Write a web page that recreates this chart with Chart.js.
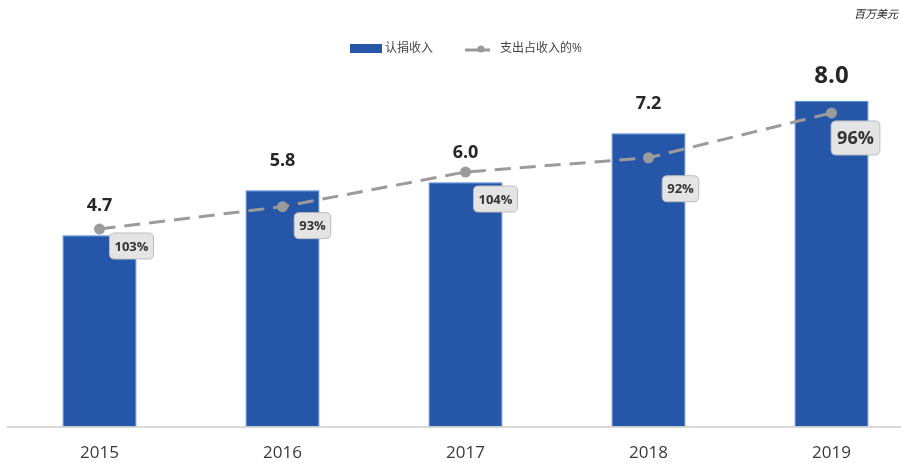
<!DOCTYPE html>
<html>
<head>
<meta charset="utf-8">
<script src="https://cdn.jsdelivr.net/npm/chart.js@4.4.1/dist/chart.umd.min.js"></script>
<style>
  html, body { margin: 0; padding: 0; background: #fff; overflow: hidden; }
  #wrap { position: relative; width: 901px; height: 463px; overflow: hidden; }
</style>
</head>
<body>
<div id="wrap"><canvas id="chart" width="931" height="479"></canvas></div>
<script>
// data (百万美元)
const years = ["2015", "2016", "2017", "2018", "2019"];
const pledges = [4.7, 5.8, 6.0, 7.2, 8.0];          // 认捐收入
const spending = [4.85, 5.4, 6.25, 6.6, 7.7];       // 支出 (plotted on the same axis)
const spendPct = [103, 93, 104, 92, 96];            // 支出占收入的%

const barLabel = "认捐收入";
const lineLabel = "支出占收入的%";
const unitLabel = "百万美元";

// where each % box sits relative to its point
const pctOffsets = [[32, 17], [30, 19], [30, 27], [32, 31], [24, 25]];

const FONT = "'Open Sans', 'Noto Sans', 'Noto Sans CJK SC', sans-serif";

const roundRect = (ctx, x, y, w, h, r) => {
  ctx.beginPath();
  ctx.moveTo(x + r, y);
  ctx.lineTo(x + w - r, y);
  ctx.quadraticCurveTo(x + w, y, x + w, y + r);
  ctx.lineTo(x + w, y + h - r);
  ctx.quadraticCurveTo(x + w, y + h, x + w - r, y + h);
  ctx.lineTo(x + r, y + h);
  ctx.quadraticCurveTo(x, y + h, x, y + h - r);
  ctx.lineTo(x, y + r);
  ctx.quadraticCurveTo(x, y, x + r, y);
  ctx.closePath();
};

const labelsPlugin = {
  id: "labels",
  afterDatasetsDraw(chart) {
    const ctx = chart.ctx;
    ctx.save();

    // values over the bars
    const bars = chart.getDatasetMeta(1).data;
    ctx.fillStyle = "#262626";
    ctx.textAlign = "center";
    ctx.textBaseline = "middle";
    bars.forEach((bar, i) => {
      const last = i === bars.length - 1;
      ctx.font = "bold " + (last ? 24 : 18) + "px " + FONT;
      ctx.fillText(pledges[i].toFixed(1), bar.x, bar.y - (last ? 25 : 29));
    });

    // % boxes next to the line points
    const pts = chart.getDatasetMeta(0).data;
    pts.forEach((p, i) => {
      const last = i === pts.length - 1;
      const txt = spendPct[i] + "%";
      ctx.font = "bold " + (last ? 18 : 13) + "px " + FONT;
      const w = ctx.measureText(txt).width + (last ? 12 : 10);
      const h = last ? 34 : 26;
      const cx = p.x + pctOffsets[i][0];
      const cy = p.y + pctOffsets[i][1];
      roundRect(ctx, cx - w / 2, cy - h / 2, w, h, 5);
      ctx.fillStyle = "#e4e4e4";
      ctx.fill();
      ctx.strokeStyle = "#bdbdbd";
      ctx.lineWidth = 1;
      ctx.stroke();
      ctx.fillStyle = "#333";
      ctx.fillText(txt, cx, cy + 1);
    });

    // legend
    ctx.font = "12px " + FONT;
    ctx.textAlign = "left";
    ctx.fillStyle = "#2656a8";
    ctx.fillRect(350, 44, 32, 9);
    ctx.fillStyle = "#444";
    ctx.fillText(barLabel, 385, 49);
    ctx.strokeStyle = "#999";
    ctx.lineWidth = 3;
    ctx.beginPath();
    ctx.moveTo(465, 50);
    ctx.lineTo(490, 50);
    ctx.stroke();
    ctx.fillStyle = "#999";
    ctx.beginPath();
    ctx.arc(481, 49, 3.5, 0, Math.PI * 2);
    ctx.fill();
    ctx.fillStyle = "#444";
    ctx.fillText(lineLabel, 500, 49);

    // unit
    ctx.font = "italic 11px " + FONT;
    ctx.textAlign = "right";
    ctx.fillStyle = "#222";
    ctx.fillText(unitLabel, 898, 15);

    ctx.restore();
  }
};

new Chart(document.getElementById("chart"), {
  type: "bar",
  data: {
    labels: years,
    datasets: [
      {
        type: "line",
        label: lineLabel,
        data: spending,
        borderColor: "#9b9b9b",
        backgroundColor: "#9b9b9b",
        borderWidth: 3,
        borderDash: [16, 9],
        pointRadius: 5.5,
        pointBackgroundColor: "#9b9b9b",
        pointBorderWidth: 0,
        order: 0,
      },
      {
        label: barLabel,
        data: pledges,
        backgroundColor: "#2656a8",
        borderColor: "#4a86e8",
        borderWidth: 1,
        categoryPercentage: 0.81,
        barPercentage: 0.5,
        order: 1,
      },
    ],
  },
  options: {
    responsive: false,
    animation: false,
    layout: { padding: { top: 60, left: 8, right: 8, bottom: 0 } },
    plugins: {
      legend: { display: false },
      tooltip: { enabled: false },
    },
    scales: {
      x: {
        grid: { display: false, drawTicks: false },
        border: { display: true, color: "#d9d9d9", width: 2 },
        ticks: {
          color: "#3a3a3a",
          padding: 16,
          font: { size: 17, family: FONT },
        },
      },
      y: {
        display: false,
        min: 0,
        max: 9,
      },
    },
  },
  plugins: [labelsPlugin],
});
</script>
</body>
</html>
